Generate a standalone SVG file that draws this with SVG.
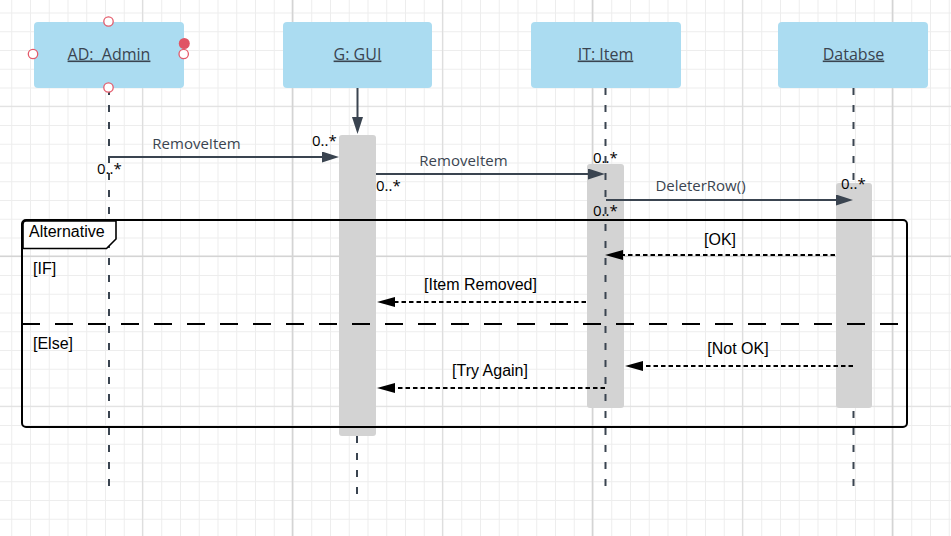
<svg xmlns="http://www.w3.org/2000/svg" width="951" height="536" viewBox="0 0 951 536">
  <style>
    .box { fill: #abdcf1; }
    .boxlabel { font-family: "Open Sans", "Liberation Sans", sans-serif; font-size: 16px; fill: #3a4450; text-anchor: middle; text-decoration: underline; }
    .life { stroke: #3a4450; stroke-width: 2; stroke-dasharray: 7 10; fill: none; }
    .act { fill: #d3d3d3; }
    .msg { stroke: #3a4450; stroke-width: 2; fill: none; }
    .reply { stroke: #000; stroke-width: 2; stroke-dasharray: 4.5 3; fill: none; }
    .mlabel { font-family: "Open Sans", "Liberation Sans", sans-serif; font-size: 15px; fill: #3a4450; text-anchor: middle; }
    .mult { font-family: "Open Sans", "Liberation Sans", sans-serif; font-size: 15px; fill: #000; }
    .rlabel { font-family: "Liberation Sans", Arial, sans-serif; font-size: 16px; fill: #000; text-anchor: middle; }
    .flabel { font-family: "Liberation Sans", Arial, sans-serif; font-size: 16px; fill: #000; }
    .handle { fill: #fff; stroke: #e45b6b; stroke-width: 1.3; }
  </style>
  <defs>
    <pattern id="minor" width="18.75" height="18.75" x="11.25" y="12.5" patternUnits="userSpaceOnUse">
      <rect x="0" y="0" width="18.75" height="1" fill="#ededed"/>
      <rect x="0" y="0" width="1" height="18.75" fill="#ededed"/>
    </pattern>
    <marker id="arrowSolid" markerUnits="userSpaceOnUse" markerWidth="18" markerHeight="12" refX="8" refY="5.5" orient="auto">
      <path d="M0,0 L17,5.5 L0,11 Z" fill="#3a4450"/>
    </marker>
    <marker id="arrowReply" markerUnits="userSpaceOnUse" markerWidth="19" markerHeight="11" refX="8" refY="5" orient="auto">
      <path d="M0,0 L18,5 L0,10 Z" fill="#000"/>
    </marker>
  </defs>

  <!-- background grid -->
  <g id="grid">
    <rect width="951" height="536" fill="#fff"/>
    <rect width="951" height="536" fill="url(#minor)"/>
    <path d="M142.5,0V536 M442.5,0V536 M742.5,0V536 M0,106.25H951 M0,406.25H951" stroke="#dedede" stroke-width="1.2"/>
    <path d="M292.5,0V536 M592.5,0V536 M892.5,0V536 M0,256.25H951" stroke="#d4d4d4" stroke-width="1.6"/>
  </g>

  <!-- lifelines -->
  <g id="admin">
    <rect class="box" x="34" y="22" width="150" height="66" rx="4"/>
    <text class="boxlabel" x="109" y="59.5" xml:space="preserve">AD:  Admin</text>
    <line class="life" x1="109" y1="88" x2="109" y2="494"/>
    <circle class="handle" cx="108.5" cy="21.5" r="4.7"/>
    <circle class="handle" cx="108.5" cy="87.5" r="4.7"/>
    <circle class="handle" cx="33" cy="54" r="4.7"/>
    <circle class="handle" cx="183.7" cy="54" r="4.7"/>
    <circle cx="184.3" cy="43.5" r="5.5" fill="#e05465"/>
  </g>

  <g id="gui">
    <rect class="box" x="283" y="22" width="149" height="66" rx="4"/>
    <text class="boxlabel" x="357.5" y="59.5">G: GUI</text>
    <line class="life" x1="357" y1="436" x2="357" y2="494"/>
    <rect class="act" x="339" y="135" width="37" height="301" rx="3"/>
  </g>

  <g id="item">
    <rect class="box" x="531" y="22" width="150" height="66" rx="4"/>
    <text class="boxlabel" x="605.5" y="59.5">IT: Item</text>
    <rect class="act" x="587" y="164" width="37" height="244" rx="3"/>
    <line class="life" x1="605.5" y1="88" x2="605.5" y2="494"/>
  </g>

  <g id="database">
    <rect class="box" x="778" y="22" width="150" height="66" rx="4"/>
    <text class="boxlabel" x="853.5" y="59.5">Databse</text>
    <line class="life" x1="853.5" y1="88" x2="853.5" y2="494"/>
    <rect class="act" x="836" y="183" width="36" height="225" rx="3"/>
  </g>

  <!-- combined fragment -->
  <g id="alt-frame">
    <rect x="22" y="220" width="885" height="207" rx="4" fill="none" stroke="#000" stroke-width="2"/>
    <path d="M23,248.5 H106.5 L116,239 V221 H26 Q23,221 23,224 Z" fill="#fff" stroke="#000" stroke-width="1.6"/>
    <text class="flabel" x="29" y="237">Alternative</text>
    <line x1="22" y1="324" x2="900" y2="324" stroke="#000" stroke-width="2" stroke-dasharray="18 15"/>
    <text class="flabel" x="33" y="274">[IF]</text>
    <text class="flabel" x="33" y="349">[Else]</text>
  </g>

  <!-- connectors -->
  <g id="connectors">
    <line class="msg" x1="357.5" y1="88" x2="357.5" y2="125" marker-end="url(#arrowSolid)"/>

    <line class="msg" x1="109" y1="157" x2="330" y2="157" marker-end="url(#arrowSolid)"/>
    <text class="mlabel" x="196.5" y="149">RemoveItem</text>
    <text class="mult" x="97" y="174">0..*</text>
    <text class="mult" x="312" y="146">0..*</text>

    <line class="msg" x1="376" y1="174" x2="596" y2="174" marker-end="url(#arrowSolid)"/>
    <text class="mlabel" x="463.5" y="166">RemoveItem</text>
    <text class="mult" x="376" y="191">0..*</text>
    <text class="mult" x="593" y="163">0..*</text>

    <line class="msg" x1="606" y1="200" x2="844" y2="200" marker-end="url(#arrowSolid)"/>
    <text class="mlabel" x="700.5" y="191">DeleterRow()</text>
    <text class="mult" x="593" y="216">0..*</text>
    <text class="mult" x="841" y="189">0..*</text>

    <line class="reply" x1="835" y1="255" x2="615" y2="255" marker-end="url(#arrowReply)"/>
    <text class="rlabel" x="720" y="245">[OK]</text>

    <line class="reply" x1="586" y1="302" x2="387" y2="302" marker-end="url(#arrowReply)"/>
    <text class="rlabel" x="480.5" y="290">[Item Removed]</text>

    <line class="reply" x1="853" y1="366" x2="635" y2="366" marker-end="url(#arrowReply)"/>
    <text class="rlabel" x="738" y="354">[Not OK]</text>

    <line class="reply" x1="605" y1="388" x2="387" y2="388" marker-end="url(#arrowReply)"/>
    <text class="rlabel" x="490" y="376">[Try Again]</text>
  </g>
</svg>
